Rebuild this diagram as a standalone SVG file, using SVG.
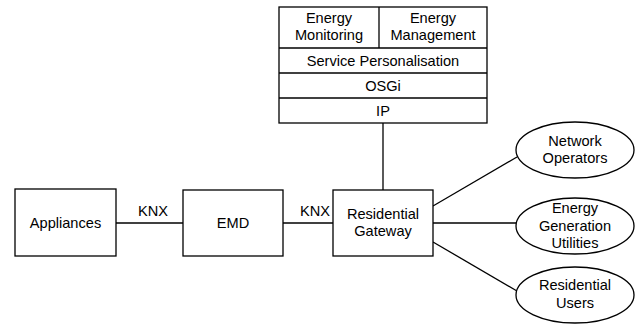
<svg xmlns="http://www.w3.org/2000/svg" width="643" height="326" viewBox="0 0 643 326">
<style>
.b{fill:#fff;stroke:#000;stroke-width:1.3}
.t{font-family:"Liberation Sans",Arial,sans-serif;font-size:14.6px;fill:#000;text-anchor:middle}
.c{stroke:#000;stroke-width:1.3;fill:none}
</style>
<rect width="643" height="326" fill="#fff"/>
<g id="connectors">
<line class="c" x1="383" y1="123" x2="383" y2="190"/>
<line class="c" x1="116" y1="223" x2="183" y2="223"/>
<line class="c" x1="283" y1="223" x2="333" y2="223"/>
<line class="c" x1="433" y1="206" x2="517" y2="157"/>
<line class="c" x1="433" y1="223" x2="516" y2="223"/>
<line class="c" x1="433" y1="242" x2="517" y2="291"/>
<text class="t" x="153" y="216">KNX</text>
<text class="t" x="315" y="216">KNX</text>
</g>
<g id="stack">
<rect class="b" x="279" y="7" width="208" height="116"/>
<line class="c" x1="279" y1="48" x2="487" y2="48"/>
<line class="c" x1="279" y1="73" x2="487" y2="73"/>
<line class="c" x1="279" y1="98" x2="487" y2="98"/>
<line class="c" x1="379" y1="7" x2="379" y2="48"/>
<text class="t" x="329" y="23">Energy</text>
<text class="t" x="329" y="40">Monitoring</text>
<text class="t" x="433" y="23">Energy</text>
<text class="t" x="433" y="40">Management</text>
<text class="t" x="383" y="66">Service Personalisation</text>
<text class="t" x="383" y="91">OSGi</text>
<text class="t" x="383" y="116">IP</text>
</g>
<g id="appliances">
<rect class="b" x="15" y="189" width="101" height="67"/>
<text class="t" x="65.5" y="228">Appliances</text>
</g>
<g id="emd">
<rect class="b" x="183" y="190" width="100" height="66"/>
<text class="t" x="233" y="228">EMD</text>
</g>
<g id="gateway">
<rect class="b" x="333" y="190" width="100" height="66"/>
<text class="t" x="383" y="219">Residential</text>
<text class="t" x="383" y="236">Gateway</text>
</g>
<g id="network-operators">
<ellipse class="b" cx="575" cy="150" rx="59" ry="28"/>
<text class="t" x="575" y="146">Network</text>
<text class="t" x="575" y="163">Operators</text>
</g>
<g id="energy-generation">
<ellipse class="b" cx="575" cy="226" rx="59" ry="28"/>
<text class="t" x="575" y="213">Energy</text>
<text class="t" x="575" y="231">Generation</text>
<text class="t" x="575" y="248">Utilities</text>
</g>
<g id="residential-users">
<ellipse class="b" cx="575" cy="295" rx="59" ry="28"/>
<text class="t" x="575" y="290">Residential</text>
<text class="t" x="575" y="308">Users</text>
</g>
</svg>
